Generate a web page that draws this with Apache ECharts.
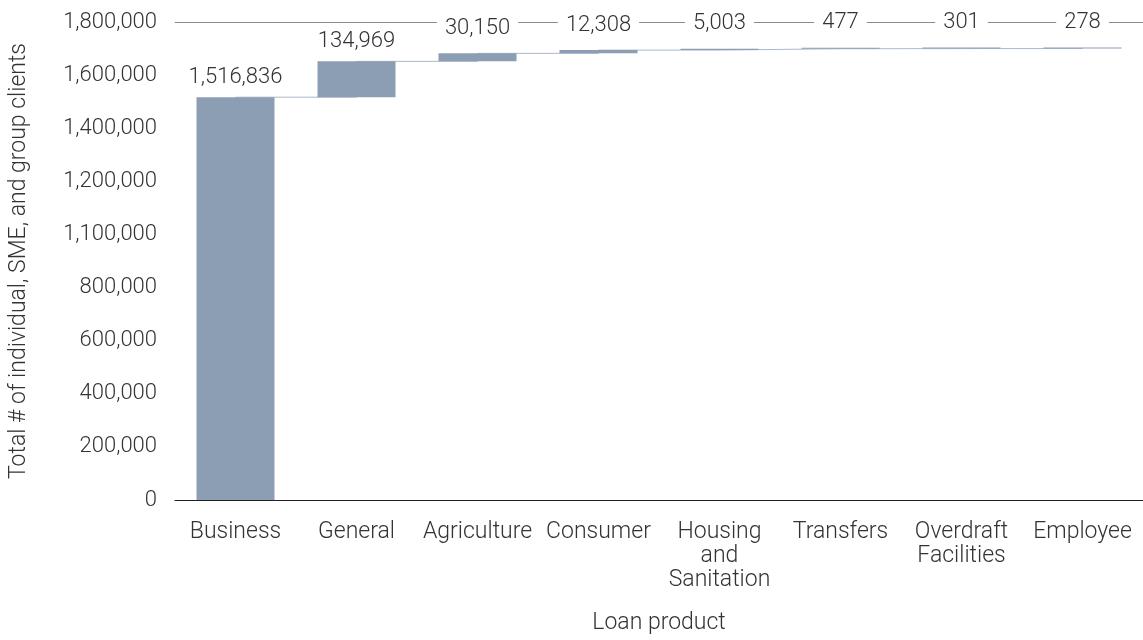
<!DOCTYPE html>
<html>
<head>
<meta charset="utf-8">
<title>Loan product waterfall</title>
<script src="https://cdn.jsdelivr.net/npm/echarts@6/dist/echarts.min.js"></script>
<style>
  html, body { margin: 0; padding: 0; background: #fff; }
  #chart { width: 1143px; height: 640px; }
</style>
</head>
<body>
<div id="chart"></div>
<script>
const categories = ['Business', 'General', 'Agriculture', 'Consumer', 'Housing\nand\nSanitation', 'Transfers', 'Overdraft\nFacilities', 'Employee'];
const values = [1516836, 134969, 30150, 12308, 5003, 477, 301, 278];
// tick labels as printed in the source (the 1,000,000 tick reads 1,100,000 there)
const yTickLabels = ['0', '200,000', '400,000', '600,000', '800,000', '1,100,000', '1,200,000', '1,400,000', '1,600,000', '1,800,000'];

const FONT = 'Roboto';
const TEXT = '#333';

// running totals for the waterfall
const bases = [];
const tops = [];
let run = 0;
values.forEach(v => {
  bases.push(run);
  run += v;
  tops.push(run);
});

const fmt = n => n.toLocaleString('en-US');

const chart = echarts.init(document.getElementById('chart'));
chart.setOption({
  animation: false,
  textStyle: { fontFamily: FONT, fontWeight: 300, color: TEXT },
  grid: { left: 172, right: 0, top: 22, bottom: 133 },
  xAxis: [{
    type: 'category',
    data: categories,
    name: 'Loan product',
    nameLocation: 'middle',
    nameGap: 112,
    nameTextStyle: { fontSize: 23, color: TEXT, fontFamily: FONT, fontWeight: 300 },
    axisLine: { lineStyle: { color: '#222', width: 1 } },
    axisTick: { show: false },
    axisLabel: { fontSize: 23, lineHeight: 24, color: TEXT, margin: 20, interval: 0, fontFamily: FONT, fontWeight: 300 }
  }, {
    type: 'category',
    data: categories,
    position: 'top',
    axisLine: { lineStyle: { color: '#8c8c8c', width: 1 } },
    axisTick: { show: false },
    axisLabel: { show: false }
  }],
  yAxis: {
    type: 'value',
    min: 0,
    max: 1800000,
    interval: 200000,
    name: 'Total # of individual, SME, and group clients',
    nameLocation: 'middle',
    nameGap: 144,
    nameTextStyle: { fontSize: 23, color: TEXT, fontFamily: FONT, fontWeight: 300 },
    axisLine: { show: false },
    axisTick: { show: false },
    splitLine: { show: false },
    axisLabel: {
      fontSize: 22, color: TEXT, margin: 18, fontFamily: FONT, fontWeight: 300,
      formatter: v => yTickLabels[Math.round(v / 200000)]
    }
  },
  series: [{
    // connector lines between the bars
    type: 'line',
    data: tops,
    step: 'end',
    symbol: 'none',
    z: 1,
    lineStyle: { color: '#aab9c9', width: 1 }
  }, {
    type: 'bar',
    stack: 'w',
    data: bases,
    barWidth: 78,
    z: 2,
    itemStyle: { color: 'transparent' }
  }, {
    type: 'bar',
    stack: 'w',
    data: values.map((v, i) => ({
      value: v,
      label: { distance: i < 2 ? 9 : 14 }
    })),
    barWidth: 78,
    barMinHeight: 1,
    z: 3,
    itemStyle: { color: '#8b9eb3' },
    label: {
      show: true,
      position: 'top',
      fontSize: 22,
      color: TEXT,
      fontFamily: FONT,
      fontWeight: 300,
      backgroundColor: '#fff',
      padding: [0, 8],
      formatter: p => fmt(p.value)
    }
  }]
});
window.addEventListener('resize', () => chart.resize());
</script>
</body>
</html>
